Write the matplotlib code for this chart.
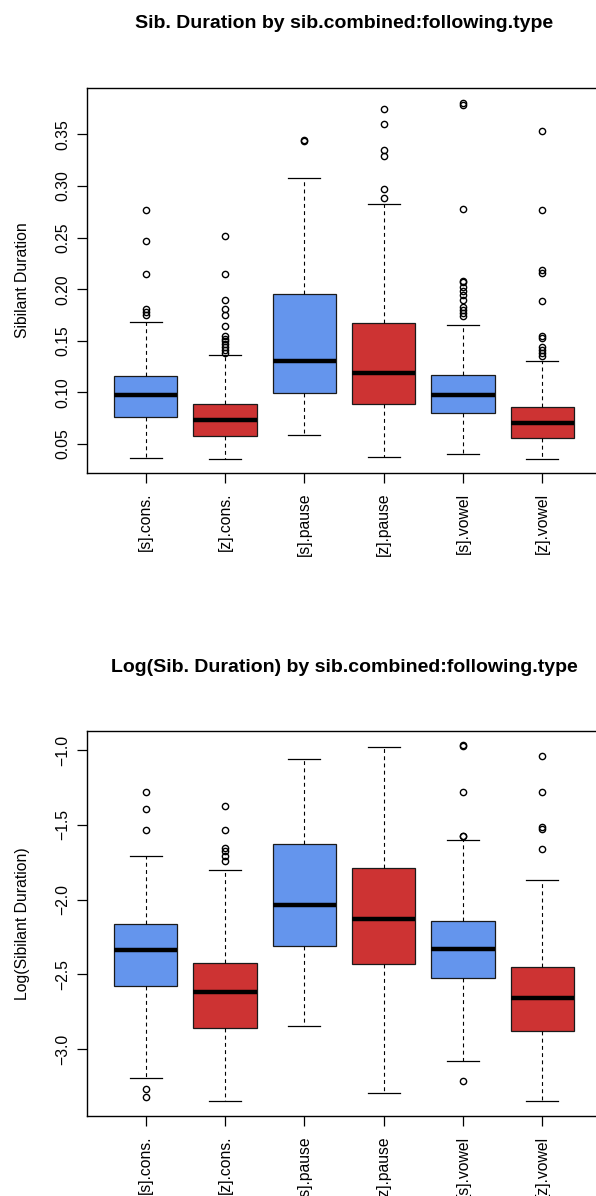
import matplotlib
matplotlib.use("Agg")
import matplotlib.pyplot as plt

plt.rcParams['font.family'] = ['Liberation Sans', 'DejaVu Sans']

categories = ["[s].cons.", "[z].cons.", "[s].pause", "[z].pause", "[s].vowel", "[z].vowel"]
box_colors = ["#6495ED", "#CD3333", "#6495ED", "#CD3333", "#6495ED", "#CD3333"]

# --- Sibilant duration (top panel) ---
dur_whislo = [0.0364, 0.0355, 0.0584, 0.0374, 0.0403, 0.0355]
dur_q1     = [0.0762, 0.0575, 0.0994, 0.0885, 0.0804, 0.0561]
dur_med    = [0.0972, 0.0733, 0.1304, 0.1190, 0.0975, 0.0707]
dur_q3     = [0.1156, 0.0890, 0.1956, 0.1670, 0.1172, 0.0862]
dur_whishi = [0.1682, 0.1362, 0.3080, 0.2829, 0.1653, 0.1304]
dur_fliers = [
    [0.277, 0.247, 0.215, 0.181, 0.1776, 0.175],
    [0.252, 0.215, 0.190, 0.181, 0.175, 0.1646, 0.1547, 0.1514, 0.150, 0.147, 0.144, 0.141, 0.138],
    [0.345, 0.344],
    [0.375, 0.360, 0.335, 0.329, 0.297, 0.288],
    [0.380, 0.379, 0.278, 0.208, 0.207, 0.2024, 0.198, 0.194, 0.190, 0.183, 0.180, 0.1767, 0.1744],
    [0.353, 0.277, 0.219, 0.216, 0.189, 0.1543, 0.153, 0.1443, 0.141, 0.1379, 0.1353],
]
dur_ticks = [0.05, 0.10, 0.15, 0.20, 0.25, 0.30, 0.35]

# --- Log sibilant duration (bottom panel) ---
log_whislo = [-3.192, -3.348, -2.844, -3.295, -3.078, -3.348]
log_q1     = [-2.576, -2.862, -2.311, -2.429, -2.523, -2.882]
log_med    = [-2.338, -2.617, -2.039, -2.128, -2.331, -2.657]
log_q3     = [-2.162, -2.423, -1.631, -1.787, -2.144, -2.452]
log_whishi = [-1.707, -1.800, -1.060, -0.978, -1.602, -1.870]
log_fliers = [
    [-1.281, -1.397, -1.535, -3.265, -3.323],
    [-1.377, -1.535, -1.653, -1.673, -1.709, -1.742],
    [],
    [],
    [-0.967, -0.970, -1.279, -1.572, -1.575, -3.216],
    [-1.040, -1.281, -1.518, -1.530, -1.664],
]
log_ticks = [-3.0, -2.5, -2.0, -1.5, -1.0]

W, H = 596, 1196
fig = plt.figure(figsize=(W / 100, H / 100), dpi=100)


def panel(rect, whislo, q1, med, q3, whishi, fliers, ylim, yticks, yticklabels,
          ylabel, title, title_y):
    ax = fig.add_axes(rect)
    stats = []
    for i in range(len(categories)):
        stats.append(dict(whislo=whislo[i], q1=q1[i], med=med[i], q3=q3[i],
                          whishi=whishi[i], fliers=fliers[i], label=categories[i]))
    positions = list(range(1, len(categories) + 1))
    bp = ax.bxp(stats, positions=positions, widths=0.8, patch_artist=True,
                showfliers=True,
                boxprops=dict(linewidth=0.9, edgecolor='#1a1a1a'),
                medianprops=dict(color='black', linewidth=3.2, solid_capstyle='butt'),
                whiskerprops=dict(color='black', linewidth=0.8, linestyle=(0, (3.5, 3))),
                capprops=dict(color='black', linewidth=0.9),
                capwidths=0.4,
                flierprops=dict(marker='o', markerfacecolor='none',
                                markeredgecolor='black', markersize=4.5,
                                markeredgewidth=1.0, linestyle='none'))
    for patch, c in zip(bp['boxes'], box_colors):
        patch.set_facecolor(c)
    ax.set_xlim(0.26, 6.74)
    ax.set_ylim(*ylim)
    ax.set_yticks(yticks)
    ax.set_yticklabels(yticklabels, rotation=90, va='center', fontsize=11.3)
    ax.set_xticks(positions)
    ax.set_xticklabels(categories, rotation=90, ha='center', va='top', fontsize=11.3)
    ax.tick_params(axis='both', direction='out', length=7.2, width=0.9, color='black')
    ax.tick_params(axis='y', pad=5)
    ax.tick_params(axis='x', pad=7)
    for s in ['left', 'top', 'bottom', 'right']:
        ax.spines[s].set_linewidth(1.0)
        ax.spines[s].set_color('black')
    ax.set_ylabel(ylabel, fontsize=11.3)
    ax.yaxis.set_label_coords(-0.111, 0.5)
    fig.text(344 / W, 1 - title_y / H, title, ha='center', va='center',
             fontsize=14, fontweight='bold')
    return ax


panel([87 / W, (H - 473) / H, 514 / W, 385 / H],
      dur_whislo, dur_q1, dur_med, dur_q3, dur_whishi, dur_fliers,
      (0.0219, 0.395), dur_ticks, ["%.2f" % t for t in dur_ticks],
      "Sibilant Duration", "Sib. Duration by sib.combined:following.type", 24)

panel([87 / W, (H - 1116) / H, 514 / W, 385.3 / H],
      log_whislo, log_q1, log_med, log_q3, log_whishi, log_fliers,
      (-3.448, -0.871), log_ticks, ["\u2212%.1f" % abs(t) for t in log_ticks],
      "Log(Sibilant Duration)", "Log(Sib. Duration) by sib.combined:following.type", 667)

fig.savefig("out.png", dpi=100)
